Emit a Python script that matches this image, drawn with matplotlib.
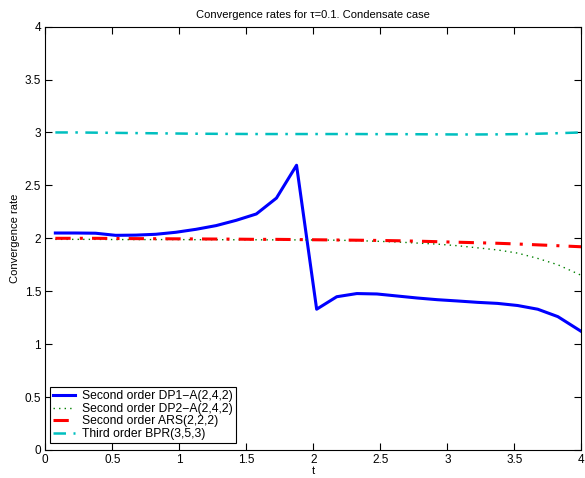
import matplotlib
matplotlib.use("Agg")
import matplotlib.pyplot as plt

plt.rcParams['font.family'] = ['Liberation Sans', 'DejaVu Sans']

t = [0.075, 0.225, 0.375, 0.525, 0.675, 0.825, 0.975, 1.125, 1.275, 1.425,
     1.575, 1.725, 1.875, 2.025, 2.175, 2.325, 2.475, 2.625, 2.775, 2.925,
     3.075, 3.225, 3.375, 3.525, 3.675, 3.825, 4.0]

dp1 = [2.05, 2.05, 2.048, 2.028, 2.03, 2.038, 2.057, 2.085, 2.12, 2.17,
       2.23, 2.38, 2.69, 1.33, 1.448, 1.478, 1.474, 1.455, 1.436, 1.42,
       1.408, 1.395, 1.385, 1.365, 1.33, 1.26, 1.12]

dp2 = [1.99, 1.99, 1.99, 1.988, 1.988, 1.988, 1.988, 1.987, 1.987, 1.986,
       1.986, 1.985, 1.985, 1.984, 1.982, 1.978, 1.972, 1.965, 1.955, 1.945,
       1.93, 1.91, 1.89, 1.86, 1.81, 1.75, 1.65]

ars = [2.0, 2.0, 2.0, 1.998, 1.997, 1.996, 1.995, 1.994, 1.993, 1.992,
       1.99, 1.99, 1.988, 1.986, 1.984, 1.982, 1.98, 1.977, 1.973, 1.968,
       1.963, 1.958, 1.953, 1.946, 1.938, 1.93, 1.92]

bpr = [3.0, 3.0, 2.998, 2.996, 2.994, 2.992, 2.99, 2.988, 2.987, 2.986,
       2.985, 2.985, 2.985, 2.985, 2.985, 2.985, 2.984, 2.984, 2.983, 2.982,
       2.981, 2.981, 2.982, 2.984, 2.988, 2.993, 3.0]

labels = ["Second order DP1\u2212A(2,4,2)", "Second order DP2\u2212A(2,4,2)",
          "Second order ARS(2,2,2)", "Third order BPR(3,5,3)"]

xticks = [0, 0.5, 1, 1.5, 2, 2.5, 3, 3.5, 4]
yticks = [0, 0.5, 1, 1.5, 2, 2.5, 3, 3.5, 4]
xticklabels = ["0", "0.5", "1", "1.5", "2", "2.5", "3", "3.5", "4"]
yticklabels = ["0", "0.5", "1", "1.5", "2", "2.5", "3", "3.5", "4"]

fig = plt.figure(figsize=(5.85, 4.78), dpi=100)
ax = fig.add_axes([45.3/585, 1-450/478, 536/585, 423.4/478])

ax.plot(t, dp1, color=(0, 0, 1), lw=2.2, ls='-', label=labels[0])
ax.plot(t, dp2, color=(0, 0.5, 0), lw=1.0, ls=(0, (1, 3)), label=labels[1])
ax.plot(t, ars, color=(1, 0, 0), lw=2.2, ls=(0, (5, 3, 1, 3)), label=labels[2])
ax.plot(t, bpr, color=(0, 0.75, 0.75), lw=1.8, ls=(0, (5, 3, 1, 3)), label=labels[3])

ax.set_xlim(0, 4)
ax.set_ylim(0, 4)
ax.set_xticks(xticks)
ax.set_xticklabels(xticklabels)
ax.set_yticks(yticks)
ax.set_yticklabels(yticklabels)
ax.tick_params(direction='in', top=True, right=True, length=5, width=0.8,
               labelsize=8.5, pad=3)
for s in ax.spines.values():
    s.set_linewidth(0.8)

ax.set_title("Convergence rates for \u03c4=0.1. Condensate case", fontsize=8, pad=6)
ax.set_xlabel("t", fontsize=8, labelpad=0)
ax.set_ylabel("Convergence rate", fontsize=8, labelpad=3)

leg = ax.legend(loc='lower left', bbox_to_anchor=((50-45.3)/536, (450-443)/423.4),
                borderaxespad=0, fontsize=8.7, fancybox=False, framealpha=1,
                edgecolor='black', handlelength=1.8, handletextpad=0.6,
                labelspacing=0.05, borderpad=0.25)
leg.get_frame().set_linewidth(0.8)

fig.savefig("out.png", dpi=100)
